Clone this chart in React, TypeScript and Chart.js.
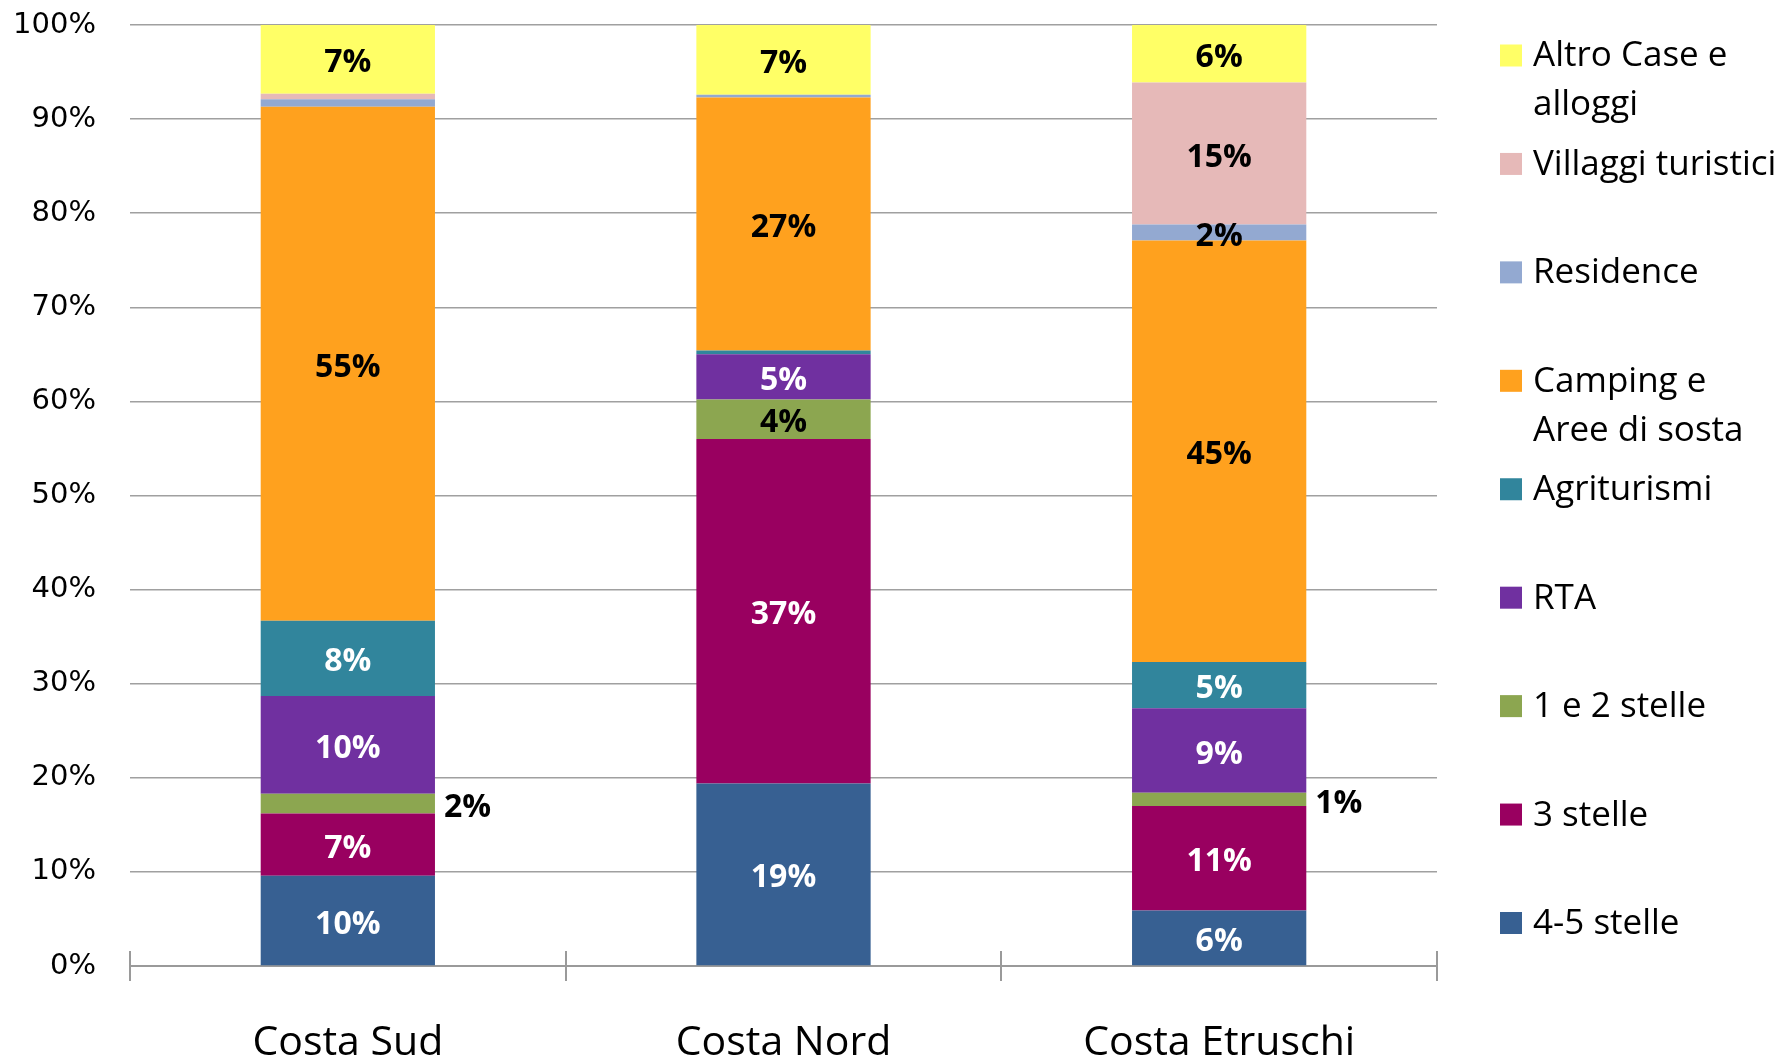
import React, { useEffect, useRef } from 'react';
import Chart from 'chart.js/auto';

const categories = ['Costa Sud', 'Costa Nord', 'Costa Etruschi'];
const seriesNames = [
  '4-5 stelle',
  '3 stelle',
  '1 e 2 stelle',
  'RTA',
  'Agriturismi',
  'Camping e Aree di sosta',
  'Residence',
  'Villaggi turistici',
  'Altro Case e alloggi',
];
const stelle45 = [9.6, 19.4, 5.9];
const stelle3 = [6.6, 36.6, 11.1];
const stelle12 = [2.1, 4.2, 1.4];
const rta = [10.4, 4.8, 9.0];
const agriturismi = [8.0, 0.4, 4.9];
const camping = [54.6, 26.9, 44.8];
const residence = [0.8, 0.3, 1.7];
const villaggi = [0.6, 0.0, 15.1];
const altro = [7.3, 7.4, 6.1];
const seriesValues = [stelle45, stelle3, stelle12, rta, agriturismi, camping, residence, villaggi, altro];

const seriesColors = ['#376092', '#990060', '#8CA650', '#7030A0', '#31859C', '#FFA11E', '#93A9D1', '#E6B9B8', '#FFFF66'];
const labelColors = ['#FFFFFF', '#FFFFFF', '#000000', '#FFFFFF', '#FFFFFF', '#000000', '#000000', '#000000', '#000000'];
const outsideLabelSeries = ['1 e 2 stelle'];

const dataLabelPlugin = {
  id: 'dataLabels',
  afterDatasetsDraw(chart: any) {
    const ctx = chart.ctx;
    ctx.save();
    ctx.font = 'bold 32px "Open Sans"';
    ctx.textBaseline = 'middle';
    chart.data.datasets.forEach((ds: any, i: number) => {
      const meta = chart.getDatasetMeta(i);
      meta.data.forEach((bar: any, j: number) => {
        const v = ds.data[j];
        if (v < 1) return;
        const text = Math.round(v) + '%';
        const p = bar.getProps(['x', 'y', 'base', 'width'], true);
        const cy = (p.y + p.base) / 2 + 4;
        if (outsideLabelSeries.includes(ds.label) && v < 3) {
          ctx.textAlign = 'left';
          ctx.fillStyle = '#000000';
          ctx.fillText(text, p.x + p.width / 2 + 9, cy);
        } else {
          ctx.textAlign = 'center';
          ctx.fillStyle = labelColors[i];
          ctx.fillText(text, p.x, cy);
        }
      });
    });
    ctx.restore();
  },
};

const axisTickPlugin = {
  id: 'axisTicks',
  afterDraw(chart: any) {
    const ctx = chart.ctx;
    const xs = chart.scales.x;
    const bottom = chart.chartArea.bottom;
    ctx.save();
    ctx.strokeStyle = '#9a9a9a';
    ctx.lineWidth = 2;
    for (let i = 0; i <= categories.length; i++) {
      const px = Math.round(xs.getPixelForValue(i - 0.5));
      ctx.beginPath();
      ctx.moveTo(px, bottom - 15);
      ctx.lineTo(px, bottom + 15);
      ctx.stroke();
    }
    ctx.restore();
  },
};

const legendPlugin = {
  id: 'sideLegend',
  afterDraw(chart: any) {
    const ctx = chart.ctx;
    const area = chart.chartArea;
    const n = chart.data.datasets.length;
    const top = area.top + 30.5;
    const bottomY = area.bottom - 43;
    const step = (bottomY - top) / (n - 1);
    const boxX = area.right + 63;
    const textX = area.right + 96;
    const maxW = 246;
    ctx.save();
    ctx.font = '35px "Open Sans"';
    ctx.textBaseline = 'middle';
    ctx.textAlign = 'left';
    for (let k = 0; k < n; k++) {
      const idx = n - 1 - k;
      const ds = chart.data.datasets[idx];
      const y = top + step * k;
      ctx.fillStyle = ds.backgroundColor;
      ctx.fillRect(boxX, y - 11, 22, 22);
      const words = String(ds.label).split(' ');
      const lines: string[] = [];
      let cur = '';
      for (const w of words) {
        const test = cur ? cur + ' ' + w : w;
        if (cur && ctx.measureText(test).width > maxW) {
          lines.push(cur);
          cur = w;
        } else {
          cur = test;
        }
      }
      if (cur) lines.push(cur);
      ctx.fillStyle = '#000000';
      lines.forEach((ln, li) => ctx.fillText(ln, textX, y + 1 + li * 49));
    }
    ctx.restore();
  },
};

export default function App() {
  const canvasRef = useRef<HTMLCanvasElement | null>(null);

  useEffect(() => {
    if (!canvasRef.current) return;
    const chart = new Chart(canvasRef.current, {
      type: 'bar',
      data: {
        labels: categories,
        datasets: seriesNames.map((name, i) => ({
          label: name,
          data: seriesValues[i],
          backgroundColor: seriesColors[i],
          borderWidth: 0,
          barPercentage: 0.4,
          categoryPercentage: 1,
        })),
      },
      options: {
        animation: false,
        responsive: true,
        maintainAspectRatio: false,
        layout: { padding: { top: 25, right: 348, left: 0, bottom: 0 } },
        plugins: {
          legend: { display: false },
          tooltip: { enabled: false },
        },
        scales: {
          x: {
            stacked: true,
            grid: { display: false, drawTicks: false },
            border: { display: true, color: '#9a9a9a', width: 2 },
            ticks: {
              color: '#000000',
              font: { family: '"Open Sans"', size: 41 },
              padding: 53,
            },
            afterFit: (scale: any) => {
              scale.height = 96;
            },
          },
          y: {
            stacked: true,
            min: 0,
            max: 100,
            grid: {
              color: '#a0a0a0',
              lineWidth: 1.5,
              drawTicks: true,
              tickLength: 34,
              tickColor: 'rgba(0,0,0,0)',
            },
            border: { display: false },
            ticks: {
              stepSize: 10,
              color: '#000000',
              font: { family: '"DejaVu Sans"', size: 29 },
              padding: 0,
              callback: (v: any) => v + '%',
            },
            afterFit: (scale: any) => {
              scale.width = 130;
            },
          },
        },
      },
      plugins: [dataLabelPlugin, axisTickPlugin, legendPlugin],
    });
    return () => chart.destroy();
  }, []);

  return (
    <div style={{ position: 'absolute', left: 0, top: 0, width: 1785, height: 1062, background: '#ffffff' }}>
      <canvas ref={canvasRef} />
    </div>
  );
}
